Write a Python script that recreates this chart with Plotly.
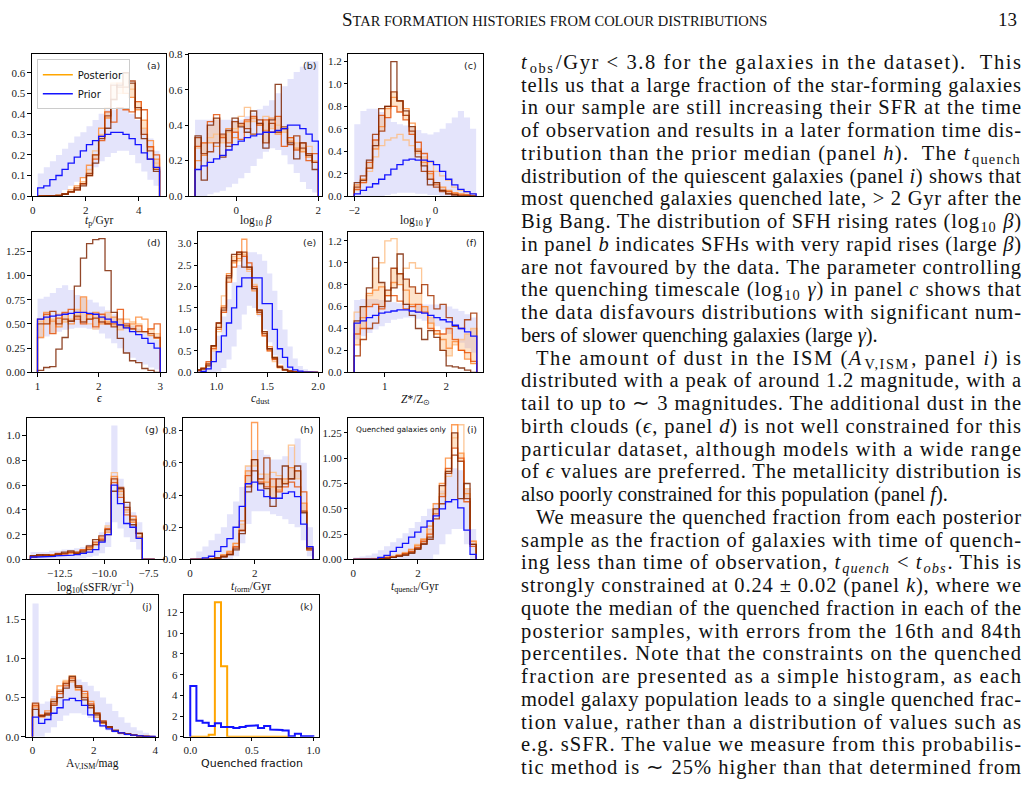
import json
import numpy as np
import plotly.graph_objects as go

W, H = 1029, 792

# ---------------- data ----------------
a_edges = np.linspace(0.19, 4.79, 21)
a_prior = [0.04,0.05,0.08,0.10,0.13,0.16,0.19,0.22,0.25,0.27,0.29,0.30,0.31,0.31,0.30,0.28,0.25,0.21,0.18,0.14]
a_prior_hi = [0.11,0.14,0.17,0.20,0.23,0.26,0.29,0.31,0.34,0.37,0.40,0.42,0.42,0.43,0.42,0.40,0.37,0.33,0.28,0.22]
a_prior_lo = [0,0,0,0.01,0.03,0.05,0.07,0.09,0.12,0.14,0.17,0.19,0.21,0.22,0.22,0.20,0.16,0.12,0.08,0.05]
a_post = [
    [0,0,0,0.005,0.01,0.02,0.04,0.07,0.13,0.22,0.30,0.43,0.55,0.50,0.60,0.52,0.46,0.33,0.24,0.16],
    [0,0,0,0.003,0.01,0.03,0.05,0.09,0.15,0.20,0.33,0.38,0.47,0.55,0.50,0.48,0.42,0.37,0.27,0.18],
    [0,0,0,0.002,0.008,0.02,0.03,0.06,0.10,0.18,0.27,0.41,0.36,0.43,0.42,0.41,0.46,0.42,0.24,0.20],
    [0,0,0,0.004,0.01,0.02,0.04,0.06,0.11,0.20,0.29,0.39,0.54,0.53,0.53,0.56,0.38,0.30,0.22,0.13],
    [0,0,0,0.003,0.01,0.02,0.03,0.05,0.10,0.16,0.28,0.33,0.47,0.54,0.60,0.55,0.43,0.28,0.18,0.12],
]

b_edges = np.linspace(-1.0, 2.0, 21)
b_prior = [0.15,0.17,0.19,0.21,0.23,0.26,0.29,0.31,0.33,0.34,0.35,0.36,0.36,0.37,0.38,0.40,0.40,0.38,0.35,0.31]
b_prior_hi = [0.43,0.43,0.43,0.43,0.43,0.43,0.43,0.43,0.45,0.47,0.49,0.51,0.54,0.58,0.62,0.66,0.70,0.73,0.76,0.76]
b_prior_lo = [0,0,0.01,0.02,0.03,0.05,0.07,0.10,0.13,0.17,0.21,0.25,0.27,0.26,0.23,0.18,0.13,0.08,0.04,0.02]
b_post = [
    [0.27,0.30,0.33,0.35,0.30,0.36,0.38,0.45,0.50,0.42,0.40,0.45,0.38,0.40,0.36,0.33,0.30,0.26,0.28,0.20],
    [0.20,0.23,0.30,0.28,0.34,0.38,0.33,0.40,0.42,0.44,0.41,0.37,0.44,0.35,0.38,0.31,0.27,0.25,0.22,0.19],
    [0.28,0.30,0.42,0.46,0.33,0.30,0.36,0.32,0.43,0.45,0.40,0.43,0.36,0.45,0.28,0.33,0.26,0.30,0.20,0.24],
    [0.33,0.24,0.25,0.30,0.35,0.28,0.42,0.41,0.38,0.35,0.43,0.30,0.41,0.36,0.39,0.29,0.34,0.27,0.24,0.19],
    [0.34,0.09,0.40,0.44,0.22,0.37,0.44,0.39,0.36,0.48,0.41,0.27,0.43,0.63,0.38,0.30,0.21,0.30,0.23,0.15],
]

c_edges = np.linspace(-2.0, 1.0, 21)
c_prior = [0.02,0.05,0.08,0.11,0.15,0.19,0.24,0.28,0.32,0.33,0.32,0.32,0.31,0.28,0.22,0.15,0.10,0.06,0.04,0.02]
c_prior_hi = [0.64,0.76,0.78,0.78,0.75,0.70,0.66,0.64,0.63,0.61,0.59,0.56,0.55,0.57,0.60,0.65,0.70,0.76,0.70,0.60]
c_prior_lo = [0,0,0,0,0,0.01,0.02,0.03,0.03,0.03,0.02,0.02,0.01,0.01,0,0,0,0,0,0]
c_post = [
    [0.05,0.12,0.22,0.35,0.45,0.50,0.52,0.55,0.50,0.45,0.38,0.35,0.30,0.22,0.18,0.14,0.08,0.05,0.03,0.02],
    [0.10,0.15,0.25,0.42,0.62,0.78,0.88,0.85,0.78,0.65,0.42,0.30,0.20,0.12,0.08,0.05,0.03,0.02,0.01,0.0],
    [0.06,0.12,0.30,0.50,0.72,0.70,0.80,0.75,0.68,0.55,0.48,0.38,0.22,0.10,0.05,0.04,0.02,0.01,0.01,0.0],
    [0.08,0.18,0.25,0.55,0.58,0.80,0.93,0.85,0.72,0.58,0.40,0.22,0.15,0.08,0.04,0.02,0.01,0.0,0.0,0.0],
    [0.12,0.14,0.32,0.45,0.78,0.80,1.20,0.85,0.76,0.62,0.35,0.27,0.10,0.12,0.05,0.02,0.01,0.0,0.0,0.0],
]

d_edges = np.linspace(1.0, 3.0, 21)
d_prior = [0.55,0.57,0.58,0.59,0.60,0.61,0.62,0.62,0.61,0.60,0.57,0.55,0.52,0.49,0.46,0.42,0.39,0.35,0.30,0.25]
d_prior_hi = [0.76,0.78,0.82,0.87,0.90,0.85,0.80,0.78,0.75,0.72,0.68,0.64,0.60,0.56,0.52,0.48,0.45,0.42,0.38,0.34]
d_prior_lo = [0.35,0.37,0.40,0.42,0.44,0.45,0.46,0.46,0.45,0.44,0.40,0.35,0.30,0.25,0.20,0.15,0.11,0.08,0.05,0.03]
d_post = [
    [0.53,0.50,0.55,0.60,0.52,0.55,0.65,0.62,0.50,0.45,0.56,0.62,0.48,0.44,0.55,0.52,0.50,0.42,0.45,0.40],
    [0.36,0.62,0.53,0.47,0.60,0.50,0.57,0.78,0.55,0.62,0.50,0.52,0.57,0.55,0.46,0.50,0.57,0.55,0.38,0.35],
    [0.55,0.60,0.40,0.56,0.62,0.65,0.55,0.50,0.60,0.47,0.60,0.50,0.50,0.65,0.50,0.45,0.48,0.42,0.45,0.50],
    [0.50,0.50,0.63,0.50,0.55,0.53,0.58,0.52,0.55,0.56,0.52,0.50,0.47,0.49,0.48,0.45,0.42,0.42,0.40,0.36],
    [0.02,0.05,0.06,0.24,0.36,0.53,0.89,1.18,1.33,1.37,1.38,1.05,0.62,0.35,0.20,0.12,0.10,0.04,0.02,0.00],
]

e_edges = np.linspace(0.8, 2.0, 25)
e_prior = [0.0,0.02,0.08,0.25,0.48,0.85,1.15,1.5,2.0,2.2,2.2,2.2,2.2,1.6,1.6,1.0,0.55,0.35,0.12,0.06,0.03,0.01,0.0,0.0]
e_prior_hi = [0.05,0.1,0.25,0.5,0.85,1.3,1.7,2.1,2.5,2.75,2.8,2.8,2.75,2.6,2.3,1.9,1.45,1.0,0.6,0.32,0.15,0.07,0.03,0.01]
e_prior_lo = [0,0,0,0,0.02,0.1,0.3,0.6,1.0,1.35,1.55,1.5,1.3,1.0,0.7,0.4,0.2,0.08,0.03,0,0,0,0,0]
e_post = [
    [0.03,0.07,0.22,0.50,0.95,1.78,2.15,2.70,2.60,2.75,2.35,2.05,1.45,0.85,0.50,0.25,0.10,0.05,0.02,0.01,0,0,0,0],
    [0.06,0.10,0.18,0.60,1.00,1.55,2.30,2.55,2.65,3.10,2.40,1.90,1.35,0.95,0.60,0.35,0.15,0.07,0.03,0.01,0,0,0,0],
    [0.04,0.08,0.25,0.55,1.15,1.40,2.10,2.45,2.80,2.70,2.55,2.00,1.45,0.85,0.50,0.30,0.12,0.06,0.03,0.01,0,0,0,0],
    [0.05,0.10,0.20,0.62,1.05,1.50,2.25,2.60,2.75,2.80,2.45,1.95,1.40,0.90,0.55,0.32,0.12,0.06,0.03,0.01,0,0,0,0],
    [0.06,0.08,0.15,0.62,1.15,1.45,2.20,2.75,2.80,2.45,2.45,1.95,1.45,0.95,0.55,0.35,0.13,0.06,0.03,0.01,0,0,0,0],
]

f_edges = np.linspace(0.5, 2.5, 21)
f_prior = [0.45,0.47,0.50,0.52,0.54,0.55,0.56,0.57,0.57,0.56,0.55,0.54,0.52,0.50,0.48,0.46,0.43,0.40,0.37,0.33]
f_prior_hi = [0.66,0.67,0.67,0.67,0.66,0.65,0.64,0.63,0.63,0.62,0.62,0.62,0.62,0.62,0.62,0.60,0.58,0.56,0.53,0.50]
f_prior_lo = [0.30,0.33,0.36,0.39,0.42,0.45,0.48,0.49,0.50,0.50,0.49,0.47,0.45,0.42,0.39,0.35,0.31,0.27,0.22,0.18]
f_post = [
    [0.55,0.60,0.70,0.95,1.00,1.20,1.22,0.90,0.95,1.00,0.95,0.60,0.50,0.35,0.20,0.15,0.25,0.30,0.35,0.40],
    [0.25,0.50,0.72,0.75,0.78,0.70,0.82,0.80,0.75,0.62,0.55,0.60,0.45,0.35,0.30,0.22,0.28,0.20,0.12,0.08],
    [0.35,0.40,0.60,0.62,0.58,0.70,0.70,0.65,0.58,0.60,0.62,0.55,0.40,0.38,0.35,0.40,0.30,0.20,0.18,0.10],
    [0.15,0.30,0.40,0.45,0.60,0.75,0.95,0.90,0.85,0.78,0.72,0.80,0.70,0.58,0.62,0.50,0.42,0.40,0.48,0.54],
    [0.47,0.60,0.77,1.05,0.82,0.65,0.77,1.08,0.62,0.52,0.40,0.30,0.38,0.32,0.20,0.06,0.05,0.04,0.02,0.00],
]

g_edges = np.linspace(-14.15, -7.15, 21)
g_prior = [0.02,0.02,0.025,0.025,0.03,0.03,0.035,0.04,0.05,0.06,0.08,0.14,0.2,0.6,0.45,0.29,0.26,0.17,0,0]
g_prior_hi = [0.06,0.06,0.06,0.07,0.07,0.08,0.08,0.09,0.10,0.12,0.15,0.22,0.30,1.08,0.65,0.45,0.38,0.30,0,0]
g_prior_lo = [0,0,0,0,0,0,0,0,0.01,0.02,0.03,0.05,0.10,0.30,0.25,0.18,0.14,0.08,0,0]
g_post = [
    [0.03,0.03,0.035,0.04,0.04,0.05,0.05,0.06,0.07,0.10,0.13,0.18,0.27,0.70,0.52,0.38,0.33,0.20,0,0],
    [0.02,0.03,0.03,0.035,0.04,0.045,0.05,0.055,0.07,0.09,0.12,0.17,0.22,0.67,0.55,0.40,0.30,0.21,0,0],
    [0.03,0.035,0.03,0.04,0.05,0.045,0.06,0.05,0.08,0.10,0.14,0.16,0.25,0.62,0.50,0.36,0.35,0.18,0,0],
    [0.02,0.03,0.04,0.03,0.04,0.05,0.06,0.06,0.07,0.08,0.12,0.19,0.24,0.65,0.58,0.42,0.32,0.21,0,0],
    [0.03,0.04,0.035,0.03,0.045,0.06,0.07,0.05,0.06,0.11,0.16,0.15,0.20,0.55,0.57,0.46,0.28,0.21,0,0],
]

h_edges = np.linspace(0.0, 3.8, 21)
h_prior = [0,0,0.01,0.02,0.05,0.08,0.13,0.20,0.33,0.47,0.48,0.43,0.39,0.38,0.38,0.41,0.42,0.39,0.22,0.08]
h_prior_hi = [0,0.05,0.08,0.12,0.16,0.20,0.28,0.36,0.45,0.58,0.68,0.68,0.65,0.62,0.62,0.64,0.70,0.75,0.60,0.20]
h_prior_lo = [0,0,0,0,0,0,0,0.02,0.10,0.22,0.30,0.30,0.30,0.28,0.27,0.25,0.22,0.20,0.12,0.02]
h_post = [
    [0,0,0,0.005,0.01,0.02,0.05,0.10,0.22,0.58,0.58,0.53,0.53,0.54,0.52,0.48,0.71,0.50,0.30,0.08],
    [0,0,0,0.003,0.01,0.03,0.05,0.10,0.24,0.55,0.85,0.50,0.48,0.45,0.43,0.50,0.57,0.55,0.35,0.06],
    [0,0,0,0.004,0.01,0.02,0.04,0.08,0.18,0.52,0.62,0.48,0.45,0.50,0.42,0.45,0.48,0.45,0.42,0.07],
    [0,0,0,0.003,0.01,0.02,0.03,0.07,0.18,0.45,0.55,0.50,0.63,0.38,0.50,0.47,0.50,0.55,0.30,0.06],
    [0,0,0,0.002,0.008,0.015,0.03,0.06,0.16,0.42,0.62,0.47,0.44,0.33,0.45,0.58,0.50,0.58,0.29,0.07],
]

i_edges = np.linspace(0.0, 3.8, 21)
i_prior = [0,0,0,0,0.02,0.04,0.08,0.12,0.16,0.22,0.27,0.32,0.38,0.43,0.50,0.57,0.59,0.51,0.29,0.05]
i_prior_hi = [0.02,0.03,0.04,0.06,0.09,0.13,0.17,0.21,0.26,0.31,0.37,0.43,0.50,0.56,0.68,0.85,0.90,0.88,0.70,0.30]
i_prior_lo = [0,0,0,0,0,0,0,0,0,0,0,0,0,0.05,0.15,0.25,0.30,0.30,0.15,0]
i_post = [
    [0,0,0.005,0.01,0.01,0.02,0.03,0.05,0.07,0.10,0.15,0.20,0.30,0.50,0.65,0.82,1.20,1.33,0.70,0.18],
    [0,0,0,0.005,0.01,0.015,0.03,0.04,0.06,0.10,0.14,0.20,0.33,0.55,0.75,1.00,1.33,1.05,0.65,0.18],
    [0,0,0,0.005,0.01,0.02,0.025,0.04,0.06,0.08,0.12,0.18,0.25,0.45,0.62,0.90,1.10,1.00,0.57,0.13],
    [0,0,0,0.003,0.008,0.015,0.02,0.035,0.05,0.07,0.11,0.16,0.22,0.40,0.55,0.85,1.03,0.97,0.60,0.15],
    [0,0,0,0.002,0.005,0.01,0.02,0.03,0.04,0.06,0.10,0.15,0.20,0.50,0.73,0.87,1.25,0.60,0.75,0.15],
]

j_edges = np.linspace(0.0, 4.0, 21)
j_prior = [0.25,0.17,0.22,0.30,0.37,0.47,0.49,0.46,0.40,0.28,0.20,0.14,0.10,0.07,0.05,0.03,0.02,0.01,0.005,0.003]
j_prior_hi = [1.70,0.42,0.45,0.52,0.60,0.68,0.72,0.73,0.70,0.65,0.58,0.50,0.42,0.33,0.25,0.18,0.12,0.08,0.05,0.02]
j_prior_lo = [0,0,0.05,0.12,0.20,0.27,0.30,0.30,0.28,0.24,0.18,0.12,0.08,0.05,0.02,0.01,0,0,0,0]
j_post = [
    [0.42,0.27,0.30,0.45,0.60,0.72,0.78,0.60,0.52,0.38,0.27,0.17,0.12,0.08,0.05,0.03,0.02,0.01,0.005,0.002],
    [0.38,0.25,0.33,0.48,0.65,0.70,0.70,0.60,0.55,0.45,0.25,0.17,0.12,0.07,0.05,0.03,0.02,0.01,0.005,0.002],
    [0.40,0.28,0.28,0.42,0.55,0.65,0.75,0.65,0.58,0.42,0.30,0.20,0.13,0.07,0.05,0.03,0.02,0.01,0.005,0.002],
    [0.43,0.26,0.30,0.40,0.58,0.68,0.72,0.65,0.50,0.37,0.30,0.20,0.12,0.08,0.05,0.03,0.02,0.01,0.005,0.002],
    [0.35,0.27,0.28,0.45,0.50,0.62,0.77,0.63,0.47,0.40,0.28,0.18,0.13,0.08,0.05,0.04,0.02,0.01,0.005,0.002],
]

k_edges = np.linspace(0.0, 1.0, 21)
k_prior = [4.9,1.55,1.35,1.05,1.3,0.95,0.95,0.85,0.95,1.05,1.1,0.85,1.05,0.7,0.65,0.6,0.05,0.3,0.05,0.05]
k_post_edges = np.linspace(0.0, 0.8, 17)
k_post = [0,0,0,0.2,13.0,6.8,0,0,0,0,0,0,0,0,0,0]

# ---------------- styling ----------------
POST_COLORS = ['#fdbe85', '#fd8d3c', '#e6550d', '#a63603', '#7f2704']
PRIOR_COLOR = '#1414ff'
BAND_COLOR = '#e4e4fb'
POST_BAND = 'rgba(253,174,107,0.35)'
SERIF = 'Liberation Serif'
SANS = 'DejaVu Sans'


def step_xy(edges, vals):
    xs = [edges[0]]
    ys = [0.0]
    for n, v in enumerate(vals):
        xs += [edges[n], edges[n + 1]]
        ys += [v, v]
    xs.append(edges[-1])
    ys.append(0.0)
    return xs, ys


def band_xy(edges, lo, hi):
    xs, ys = [], []
    for n, v in enumerate(hi):
        xs += [edges[n], edges[n + 1]]
        ys += [v, v]
    for n in reversed(range(len(lo))):
        xs += [edges[n + 1], edges[n]]
        ys += [lo[n], lo[n]]
    xs.append(xs[0])
    ys.append(ys[0])
    return xs, ys


def fmt(v, nd):
    s = f"{v:.{nd}f}"
    return s.replace('-', '\u2212')


panels = [
    dict(lab='(a)', box=(30, 165, 49, 193), xr=[-0.03, 5.04], yr=[0, 0.69],
         xt=[0, 2, 4], xnd=0, yt=[0, .1, .2, .3, .4, .5, .6], ynd=1,
         edges=a_edges, prior=a_prior, lo=a_prior_lo, hi=a_prior_hi, post=a_post,
         title='<i>t</i><sub>p</sub>/Gyr', ty=218),
    dict(lab='(b)', box=(188, 322, 49, 193), xr=[-1.145, 2.1], yr=[0, 0.8],
         xt=[0, 2], xnd=0, yt=[0, .2, .4, .6, .8], ynd=1,
         edges=b_edges, prior=b_prior, lo=b_prior_lo, hi=b_prior_hi, post=b_post,
         title='log<sub>10</sub> <i>β</i>', ty=218),
    dict(lab='(c)', box=(348, 483, 49, 193), xr=[-2.147, 1.16], yr=[0, 1.265],
         xt=[-2, 0], xnd=0, yt=[0, .2, .4, .6, .8, 1.0, 1.2], ynd=1,
         edges=c_edges, prior=c_prior, lo=c_prior_lo, hi=c_prior_hi, post=c_post,
         title='log<sub>10</sub> <i>γ</i>', ty=218),
    dict(lab='(d)', box=(30, 165, 229, 372), xr=[0.908, 3.097], yr=[0, 1.454],
         xt=[1, 2, 3], xnd=0, yt=[0, .25, .5, .75, 1.0, 1.25], ynd=2,
         edges=d_edges, prior=d_prior, lo=d_prior_lo, hi=d_prior_hi, post=d_post,
         title='<i>ϵ</i>', ty=398),
    dict(lab='(e)', box=(197, 322, 229, 372), xr=[0.821, 2.042], yr=[0, 3.28],
         xt=[1.0, 1.5, 2.0], xnd=1, yt=[0, .5, 1.0, 1.5, 2.0, 2.5, 3.0], ynd=1,
         edges=e_edges, prior=e_prior, lo=e_prior_lo, hi=e_prior_hi, post=e_post,
         title='<i>c</i><sub>dust</sub>', ty=399),
    dict(lab='(f)', box=(348, 483, 229, 372), xr=[0.405, 2.595], yr=[0, 1.285],
         xt=[1, 2], xnd=0, yt=[0, .2, .4, .6, .8, 1.0, 1.2], ynd=1,
         edges=f_edges, prior=f_prior, lo=f_prior_lo, hi=f_prior_hi, post=f_post,
         title='<i>Z</i>*/Z<sub>⊙</sub>', ty=400),
    dict(lab='(g)', box=(25, 163, 418, 562), xr=[-14.35, -6.62], yr=[0, 1.143],
         xt=[-12.5, -10.0, -7.5], xnd=1, yt=[0, .2, .4, .6, .8, 1.0], ynd=1,
         edges=g_edges, prior=g_prior, lo=g_prior_lo, hi=g_prior_hi, post=g_post,
         title='log<sub>10</sub>(sSFR/yr<sup>−1</sup>)', ty=590),
    dict(lab='(h)', box=(182, 319, 418, 562), xr=[-0.215, 4.0], yr=[0, 0.88],
         xt=[0, 2], xnd=0, yt=[0, .2, .4, .6, .8], ynd=1,
         edges=h_edges, prior=h_prior, lo=h_prior_lo, hi=h_prior_hi, post=h_post,
         title='<i>t</i><sub>form</sub>/Gyr', ty=590),
    dict(lab='(i)', box=(348, 483, 418, 562), xr=[-0.154, 4.0], yr=[0, 1.4],
         xt=[0, 2], xnd=0, yt=[0, .25, .5, .75, 1.0, 1.25], ynd=2,
         edges=i_edges, prior=i_prior, lo=i_prior_lo, hi=i_prior_hi, post=i_post,
         title='<i>t</i><sub>quench</sub>/Gyr', ty=590),
    dict(lab='(j)', box=(24, 157, 598, 742), xr=[-0.215, 4.1], yr=[0, 1.81],
         xt=[0, 2, 4], xnd=0, yt=[0, .5, 1.0, 1.5], ynd=1,
         edges=j_edges, prior=j_prior, lo=j_prior_lo, hi=j_prior_hi, post=j_post,
         title='A<sub>V,ISM</sub>/mag', ty=770),
    dict(lab='(k)', box=(183, 319, 598, 742), xr=[-0.05, 1.05], yr=[0, 13.7],
         xt=[0.0, 0.5, 1.0], xnd=1, yt=[0, 2, 4, 6, 8, 10, 12], ynd=0,
         edges=None, title='Quenched fraction', ty=769),
]

fig = go.Figure()
layout = dict(width=W, height=H, margin=dict(l=0, r=0, t=0, b=0),
              paper_bgcolor='white', plot_bgcolor='white', showlegend=True)
annotations = []

for n, p in enumerate(panels, start=1):
    xa = 'xaxis' if n == 1 else f'xaxis{n}'
    ya = 'yaxis' if n == 1 else f'yaxis{n}'
    xr_ = 'x' if n == 1 else f'x{n}'
    yr_ = 'y' if n == 1 else f'y{n}'
    x0, x1, yt0, yb0 = p['box']
    common = dict(showline=True, linecolor='black', linewidth=0.9, mirror=True,
                  showgrid=False, zeroline=False, ticks='outside', ticklen=3.5,
                  tickwidth=0.9, tickcolor='black',
                  tickfont=dict(family=SERIF, size=11, color='#1a1a1a'))
    layout[xa] = dict(domain=[x0 / W, x1 / W], anchor=yr_, range=p['xr'],
                      tickvals=p['xt'], ticktext=[fmt(v, p['xnd']) for v in p['xt']],
                      **common)
    layout[ya] = dict(domain=[1 - yb0 / H, 1 - yt0 / H], anchor=xr_, range=p['yr'],
                      tickvals=p['yt'], ticktext=[fmt(v, p['ynd']) for v in p['yt']],
                      **common)

    if p['edges'] is not None:
        e = p['edges']
        bx, by = band_xy(e, p['lo'], p['hi'])
        fig.add_trace(go.Scatter(x=bx, y=by, xaxis=xr_, yaxis=yr_, mode='lines',
                                 fill='toself', fillcolor=BAND_COLOR, line=dict(width=0),
                                 showlegend=False, hoverinfo='skip'))
        post = np.array(p['post'])
        plo, phi = np.percentile(post, [25, 75], axis=0)
        px_, py_ = band_xy(e, plo, phi)
        fig.add_trace(go.Scatter(x=px_, y=py_, xaxis=xr_, yaxis=yr_, mode='lines',
                                 fill='toself', fillcolor=POST_BAND, line=dict(width=0),
                                 showlegend=False, hoverinfo='skip'))
        for m, vals in enumerate(p['post']):
            sx, sy = step_xy(e, vals)
            fig.add_trace(go.Scatter(x=sx, y=sy, xaxis=xr_, yaxis=yr_, mode='lines',
                                     line=dict(color=POST_COLORS[m], width=1.3),
                                     opacity=0.85, showlegend=False, hoverinfo='skip'))
        sx, sy = step_xy(e, p['prior'])
        fig.add_trace(go.Scatter(x=sx, y=sy, xaxis=xr_, yaxis=yr_, mode='lines',
                                 line=dict(color=PRIOR_COLOR, width=1.3),
                                 showlegend=False, hoverinfo='skip'))
    else:
        sx, sy = step_xy(k_post_edges, k_post)
        fig.add_trace(go.Scatter(x=sx, y=sy, xaxis=xr_, yaxis=yr_, mode='lines',
                                 line=dict(color='#ffa500', width=2),
                                 showlegend=False, hoverinfo='skip'))
        sx, sy = step_xy(k_edges, k_prior)
        fig.add_trace(go.Scatter(x=sx, y=sy, xaxis=xr_, yaxis=yr_, mode='lines',
                                 line=dict(color=PRIOR_COLOR, width=2),
                                 showlegend=False, hoverinfo='skip'))

    annotations.append(dict(x=(x1 - 4) / W, y=1 - (yt0 + 4) / H, xref='paper', yref='paper',
                            text=p['lab'], showarrow=False, xanchor='right', yanchor='top',
                            font=dict(family=SANS, size=9.5, color='#222')))
    tfont = dict(family=SANS if p['lab'] == '(k)' else SERIF,
                 size=11 if p['lab'] == '(k)' else 11.5, color='#111')
    annotations.append(dict(x=(x0 + x1) / 2 / W, y=1 - p['ty'] / H, xref='paper', yref='paper',
                            text=p['title'], showarrow=False, xanchor='center', yanchor='middle',
                            font=tfont))

annotations.append(dict(x=(348 + 6) / W, y=1 - (418 + 5) / H, xref='paper', yref='paper',
                        text='Quenched galaxies only', showarrow=False, xanchor='left',
                        yanchor='top', font=dict(family=SANS, size=7.5, color='#111')))

fig.add_trace(go.Scatter(x=[None], y=[None], mode='lines', name='Posterior',
                         line=dict(color='#ffa500', width=1.5)))
fig.add_trace(go.Scatter(x=[None], y=[None], mode='lines', name='Prior',
                         line=dict(color=PRIOR_COLOR, width=1.5)))
layout['legend'] = dict(x=35 / W, y=1 - 54 / H, xanchor='left', yanchor='top',
                        bgcolor='rgba(255,255,255,0.85)', bordercolor='#cccccc', borderwidth=1,
                        font=dict(family=SANS, size=10, color='#111'), tracegroupgap=0,
                        itemwidth=30)

# ---------------- page text ----------------
header = ('S<span style="font-size:14.5px">TAR FORMATION HISTORIES FROM COLOUR '
          'DISTRIBUTIONS</span>')
annotations.append(dict(x=555 / W, y=1 - 14 / H, xref='paper', yref='paper', text=header,
                        showarrow=False, xanchor='center', yanchor='middle',
                        font=dict(family=SERIF, size=19, color='#111')))
annotations.append(dict(x=1022 / W, y=1 - 14 / H, xref='paper', yref='paper', text='13',
                        showarrow=False, xanchor='right', yanchor='middle',
                        font=dict(family=SERIF, size=19, color='#111')))

# (text, indent in px, justified to the column edge?)
body_lines = [
    ("<i>t</i><sub>obs</sub>/Gyr &lt; 3.8 for the galaxies in the dataset).  This", 0, True),
    ("tells us that a large fraction of the star-forming galaxies", 0, True),
    ("in our sample are still increasing their SFR at the time", 0, True),
    ("of observation and results in a later formation time dis-", 0, True),
    ("tribution than the prior median (panel <i>h</i>).  The <i>t</i><sub>quench</sub>", 0, True),
    ("distribution of the quiescent galaxies (panel <i>i</i>) shows that", 0, True),
    ("most quenched galaxies quenched late, &gt; 2 Gyr after the", 0, True),
    ("Big Bang. The distribution of SFH rising rates (log<sub>10</sub> <i>β</i>)", 0, True),
    ("in panel <i>b</i> indicates SFHs with very rapid rises (large <i>β</i>)", 0, True),
    ("are not favoured by the data. The parameter controlling", 0, True),
    ("the quenching timescale (log<sub>10</sub> <i>γ</i>) in panel <i>c</i> shows that", 0, True),
    ("the data disfavours distributions with significant num-", 0, True),
    ("bers of slower quenching galaxies (large <i>γ</i>).", 0, False),
    ("The amount of dust in the ISM (<i>A</i><sub>V,ISM</sub>, panel <i>i</i>) is", 15, True),
    ("distributed with a peak of around 1.2 magnitude, with a", 0, True),
    ("tail to up to ∼ 3 magnitudes. The additional dust in the", 0, True),
    ("birth clouds (<i>ϵ</i>, panel <i>d</i>) is not well constrained for this", 0, True),
    ("particular dataset, although models with a wide range", 0, True),
    ("of <i>ϵ</i> values are preferred. The metallicity distribution is", 0, True),
    ("also poorly constrained for this population (panel <i>f</i>).", 0, False),
    ("We measure the quenched fraction from each posterior", 15, True),
    ("sample as the fraction of galaxies with time of quench-", 0, True),
    ("ing less than time of observation, <i>t<sub>quench</sub></i> &lt; <i>t<sub>obs</sub></i>. This is", 0, True),
    ("strongly constrained at 0.24 ± 0.02 (panel <i>k</i>), where we", 0, True),
    ("quote the median of the quenched fraction in each of the", 0, True),
    ("posterior samples, with errors from the 16th and 84th", 0, True),
    ("percentiles. Note that the constraints on the quenched", 0, True),
    ("fraction are presented as a simple histogram, as each", 0, True),
    ("model galaxy population leads to a single quenched frac-", 0, True),
    ("tion value, rather than a distribution of values such as", 0, True),
    ("e.g. sSFR. The value we measure from this probabilis-", 0, True),
    ("tic method is ∼ 25% higher than that determined from", 0, True),
]

TEXT_LEFT = 520
TEXT_RIGHT = 1022
FS = 20.5
justify = {}
for n, (txt, indent, just) in enumerate(body_lines):
    yc = 56 + n * 23.1
    if just:
        justify[len(annotations)] = TEXT_RIGHT - (TEXT_LEFT + indent) - 2
    annotations.append(dict(x=(TEXT_LEFT + indent) / W, y=1 - (yc - 12.5) / H,
                            xref='paper', yref='paper', text=txt, showarrow=False,
                            xanchor='left', yanchor='top', align='left',
                            font=dict(family=SERIF, size=FS, color='#111')))

layout['annotations'] = annotations
fig.update_layout(**layout)

post_script = """
document.body.style.margin = '0';
(function(){
  var J = %s;
  function fix(){
    var gd = document.getElementById('{plot_id}');
    if (!gd) return;
    gd.querySelectorAll('g.annotation').forEach(function(g){
      var idx = g.getAttribute('data-index');
      if (idx !== null && Object.prototype.hasOwnProperty.call(J, idx)) {
        var el = g.querySelector('text.annotation-text');
        if (el) {
          el.setAttribute('textLength', J[idx]);
          el.setAttribute('lengthAdjust', 'spacing');
        }
      }
    });
  }
  fix(); setTimeout(fix, 30); setTimeout(fix, 200); setTimeout(fix, 600);
})();
""" % json.dumps({str(k): v for k, v in justify.items()})

fig.write_html("out.html", config={'displayModeBar': False}, post_script=post_script)
